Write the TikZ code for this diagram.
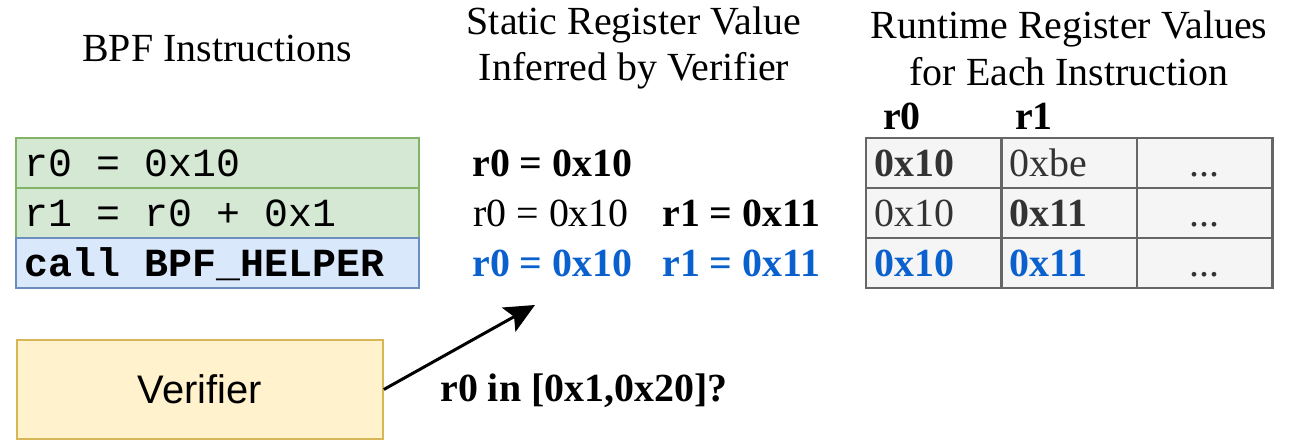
\documentclass[tikz,border=0pt]{standalone}
\usepackage{fontspec}
\setmainfont{Liberation Serif}
\setsansfont{Liberation Sans}
\setmonofont{Liberation Mono}
\usetikzlibrary{arrows.meta}
\definecolor{insfill}{HTML}{D5E8D4}
\definecolor{insline}{HTML}{82B366}
\definecolor{callfill}{HTML}{DAE8FC}
\definecolor{callline}{HTML}{6C8EBF}
\definecolor{verfill}{HTML}{FFF2CC}
\definecolor{verline}{HTML}{D6B656}
\definecolor{cellfill}{HTML}{F5F5F5}
\definecolor{cellline}{HTML}{666666}
\definecolor{celltext}{HTML}{333333}
\definecolor{helperblue}{HTML}{0A60CC}
\newcommand{\bigfont}{\fontsize{22.7}{26.7}\selectfont}
\newcommand{\msp}{\hspace{0.6em}}% one monospace cell

\begin{document}
\begin{tikzpicture}[x=0.02cm,y=-0.02cm,
  every node/.style={font=\bigfont},
  insbox/.style={draw=insline,fill=insfill,line width=1.1pt,anchor=north west,outer sep=0pt,
    minimum height=1cm,text width=7.7cm,inner xsep=0.18cm,inner ysep=0pt,align=left,
    text height=0.6cm,text depth=0.06cm,font=\bigfont\ttfamily},
  cell/.style={draw=cellline,fill=cellfill,line width=1.4pt,text=celltext,outer sep=0pt,
    minimum height=1cm,text width=2.38cm,inner xsep=0.165cm,inner ysep=0pt,align=left,
    text height=0.6cm,text depth=0.06cm},
  val/.style={anchor=west,inner sep=0pt,text height=0.6cm,text depth=0.06cm,
    font=\bigfont\bfseries}]
  \useasboundingbox (0,0) rectangle (1294,440);

  % titles
  \node (institle) at (217,48) {BPF Instructions};
  \node[align=center] (stattitle) at (634,48) {Static Register Value\\Inferred by Verifier};
  \node[align=center] (runtitle) at (1069,48) {Runtime Register Values\\for Each Instruction};

  % instructions
  \node[insbox] (ins1) at (16,138) {r0\msp=\msp0x10};
  \node[insbox,anchor=north west] (ins2) at (ins1.south west) {r1\msp=\msp r0\msp+\msp0x1};
  \node[insbox,draw=callline,fill=callfill,anchor=north west,font=\bigfont\ttfamily\bfseries]
    (ins3) at (ins2.south west) {call\msp BPF\_HELPER};

  % static values
  \node[val] (s1a) at (472,163) {r0 = 0x10};
  \node[val,font=\bigfont] (s2a) at (473,213) {r0 = 0x10};
  \node[val] (s2b) at (662,213) {r1 = 0x11};
  \node[val,text=helperblue] (s3a) at (472,263) {r0 = 0x10};
  \node[val,text=helperblue] (s3b) at (662,263) {r1 = 0x11};

  % runtime table
  \node[font=\bigfont\bfseries] (hr0) at (902,116) {r0};
  \node[font=\bigfont\bfseries] (hr1) at (1034,116) {r1};
  \node[cell,anchor=north west,font=\bigfont\bfseries] (c11) at (866,138) {0x10};
  \node[cell,anchor=west] (c12) at (c11.east) {0xbe};
  \node[cell,anchor=west,align=center] (c13) at (c12.east) {...};
  \node[cell,anchor=north west] (c21) at (c11.south west) {0x10};
  \node[cell,anchor=west,font=\bigfont\bfseries] (c22) at (c21.east) {0x11};
  \node[cell,anchor=west,align=center] (c23) at (c22.east) {...};
  \node[cell,anchor=north west,font=\bigfont\bfseries,text=helperblue] (c31) at (c21.south west) {0x10};
  \node[cell,anchor=west,font=\bigfont\bfseries,text=helperblue] (c32) at (c31.east) {0x11};
  \node[cell,anchor=west,align=center] (c33) at (c32.east) {...};

  % verifier query
  \node[draw=verline,fill=verfill,line width=1.1pt,anchor=north west,
    minimum width=7.32cm,minimum height=1.98cm,font=\bigfont\sffamily] (verifier) at (16,339) {Verifier};
  \coordinate (tip) at (535,305);
  \draw[line width=1.7pt,-{Stealth[length=0.6cm,width=0.55cm,inset=0.12cm]}] (verifier.east) -- (tip);
  \node[val] (query) at (440,388) {r0 in [0x1,0x20]?};
\end{tikzpicture}
\end{document}
